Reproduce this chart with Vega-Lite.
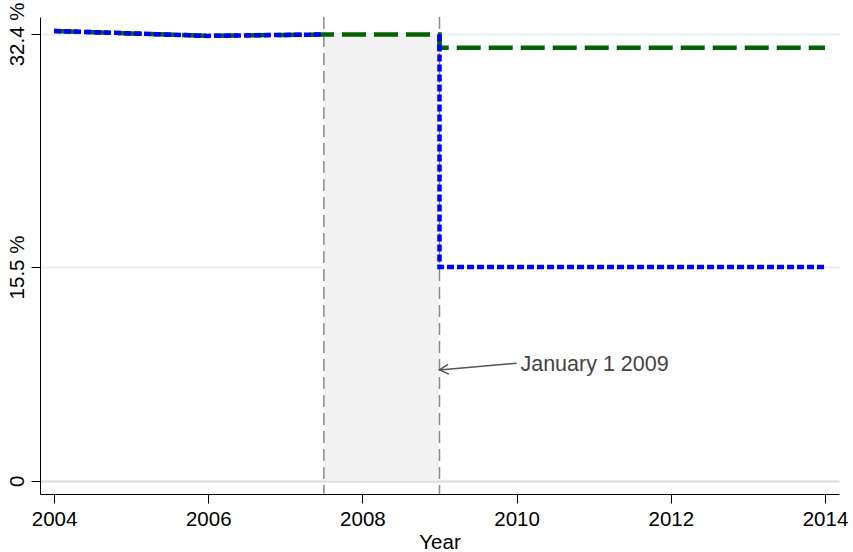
{
  "$schema": "https://vega.github.io/schema/vega-lite/v6.json",
  "width": 799,
  "height": 477,
  "autosize": {"type": "none"},
  "padding": {"left": 40, "top": 17, "right": 14, "bottom": 58},
  "background": "white",
  "config": {"view": {"stroke": null}, "font": "Liberation Sans"},
  "datasets": {
    "series": [
      {"series": "green", "seg": 1, "ord": 1, "year": 2004, "value": 32.62},
      {"series": "green", "seg": 1, "ord": 2, "year": 2005, "value": 32.44},
      {"series": "green", "seg": 1, "ord": 3, "year": 2006, "value": 32.26},
      {"series": "green", "seg": 1, "ord": 4, "year": 2007, "value": 32.33},
      {"series": "green", "seg": 1, "ord": 5, "year": 2007.5, "value": 32.36},
      {"series": "green", "seg": 1, "ord": 6, "year": 2008, "value": 32.36},
      {"series": "green", "seg": 1, "ord": 7, "year": 2009, "value": 32.36},
      {"series": "green", "seg": 1, "ord": 8, "year": 2009, "value": 31.4},
      {"series": "green", "seg": 1, "ord": 9, "year": 2014, "value": 31.4},
      {"series": "blue", "seg": 1, "ord": 1, "year": 2004, "value": 32.62},
      {"series": "blue", "seg": 1, "ord": 2, "year": 2005, "value": 32.44},
      {"series": "blue", "seg": 1, "ord": 3, "year": 2006, "value": 32.26},
      {"series": "blue", "seg": 1, "ord": 4, "year": 2007, "value": 32.33},
      {"series": "blue", "seg": 1, "ord": 5, "year": 2007.5, "value": 32.36},
      {"series": "blue", "seg": 2, "ord": 6, "year": 2009, "value": 32.36},
      {"series": "blue", "seg": 2, "ord": 7, "year": 2009, "value": 15.5},
      {"series": "blue", "seg": 2, "ord": 8, "year": 2014, "value": 15.5}
    ],
    "window": [{"start": 2007.5, "end": 2009, "low": 0, "high": 32.36}],
    "marks": [{"year": 2007.5}, {"year": 2009}],
    "note": [{"x": 2010.0, "y": 8.52, "tipx": 2009.0, "tipy": 8.03, "label": "January 1 2009", "tx": 2010.05, "ty": 8.4}]
  },
  "layer": [
    {
      "data": {"name": "window"},
      "mark": {"type": "rect", "color": "#f2f2f2"},
      "encoding": {
        "x": {
          "field": "start", "type": "quantitative",
          "scale": {"domain": [2003.818, 2014.182], "nice": false, "zero": false},
          "axis": {
            "values": [2004, 2006, 2008, 2010, 2012, 2014],
            "format": "d",
            "title": "Year",
            "grid": false,
            "domainColor": "#000",
            "domainWidth": 1,
            "tickColor": "#000",
            "tickSize": 9,
            "labelFont": "Liberation Sans",
            "labelFontSize": 20.5,
            "labelColor": "#000",
            "labelPadding": 6,
            "titleFont": "Liberation Sans",
            "titleFontSize": 20.5,
            "titleFontWeight": "normal",
            "titleColor": "#000",
            "titlePadding": 3
          }
        },
        "x2": {"field": "end"},
        "y": {
          "field": "low", "type": "quantitative",
          "scale": {"domain": [-0.965, 33.63], "nice": false, "zero": false},
          "axis": {
            "values": [0, 15.5, 32.4],
            "labelExpr": "datum.value == 0 ? '0' : format(datum.value, '.1f') + ' %'",
            "title": null,
            "grid": true,
            "gridColor": {"condition": {"test": "datum.value === 0", "value": "#dadada"}, "value": "#e9f0f3"},
            "gridWidth": 2,
            "domainColor": "#000",
            "domainWidth": 1,
            "tickColor": "#000",
            "tickSize": 9,
            "labelAngle": 270,
            "labelAlign": "center",
            "labelBaseline": "alphabetic",
            "labelPadding": 8,
            "labelFont": "Liberation Sans",
            "labelFontSize": 20.5,
            "labelColor": "#000"
          }
        },
        "y2": {"field": "high"}
      }
    },
    {
      "data": {"name": "marks"},
      "mark": {"type": "rule", "color": "#8a8a8a", "strokeWidth": 1.5, "strokeDash": [12, 6]},
      "encoding": {
        "x": {"field": "year", "type": "quantitative"}
      }
    },
    {
      "data": {"name": "series"},
      "transform": [{"filter": "datum.series === 'green'"}],
      "mark": {"type": "line", "color": "#006400", "strokeWidth": 4.5, "strokeDash": [24, 8]},
      "encoding": {
        "x": {"field": "year", "type": "quantitative"},
        "y": {"field": "value", "type": "quantitative"},
        "order": {"field": "ord"},
        "detail": {"field": "seg"}
      }
    },
    {
      "data": {"name": "series"},
      "transform": [{"filter": "datum.series === 'blue'"}],
      "mark": {"type": "line", "color": "#0000ff", "strokeWidth": 4.5, "strokeDash": [7, 3]},
      "encoding": {
        "x": {"field": "year", "type": "quantitative"},
        "y": {"field": "value", "type": "quantitative"},
        "order": {"field": "ord"},
        "detail": {"field": "seg"}
      }
    },
    {
      "data": {"name": "note"},
      "mark": {"type": "rule", "color": "#555555", "strokeWidth": 1.5},
      "encoding": {
        "x": {"field": "x", "type": "quantitative"},
        "y": {"field": "y", "type": "quantitative"},
        "x2": {"field": "tipx"},
        "y2": {"field": "tipy"}
      }
    },
    {
      "data": {"name": "note"},
      "mark": {"type": "point", "shape": "M1,-0.55L0,0L1,0.55", "filled": false, "stroke": "#555555", "strokeWidth": 1.5, "size": 324, "angle": 355, "opacity": 1},
      "encoding": {
        "x": {"field": "tipx", "type": "quantitative"},
        "y": {"field": "tipy", "type": "quantitative"}
      }
    },
    {
      "data": {"name": "note"},
      "mark": {"type": "text", "align": "left", "baseline": "middle", "font": "Liberation Sans", "fontSize": 21.5, "color": "#444444"},
      "encoding": {
        "x": {"field": "tx", "type": "quantitative"},
        "y": {"field": "ty", "type": "quantitative"},
        "text": {"field": "label"}
      }
    }
  ]
}
